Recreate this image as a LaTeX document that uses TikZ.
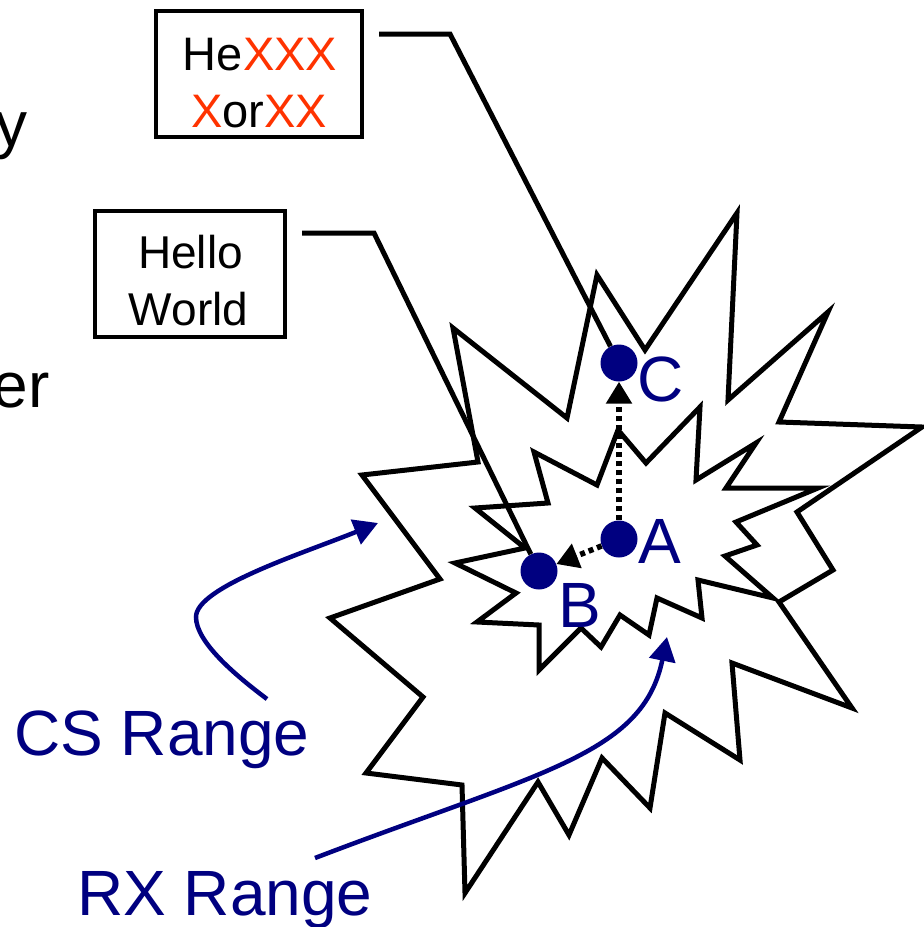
\documentclass[tikz,border=0pt]{standalone}
\usepackage{fontspec}
\setmainfont{Liberation Sans}
\usetikzlibrary{arrows.meta}
\definecolor{navyb}{RGB}{0,0,128}
\definecolor{xred}{RGB}{255,51,0}
\newcommand\fsBig{\fontsize{64}{77}\selectfont}
\newcommand\fsBoxA{\fontsize{47}{57}\selectfont}
\newcommand\fsBoxB{\fontsize{46}{57}\selectfont}
\begin{document}
\begin{tikzpicture}[x=1pt,y=-1pt,
  starline/.style={line width=5pt, line join=miter},
  boxframe/.style={draw, line width=4.5pt, minimum height=126pt, inner sep=0pt},
  leader/.style={line width=5pt},
  dotnode/.style={circle, fill=navyb, minimum size=37pt, inner sep=0pt},
  dotarrow/.style={line width=5.5pt, dash pattern=on 5pt off 4pt, -{Triangle[length=22pt,width=25pt]}},
  bluearrow/.style={navyb, line width=4.5pt, -{Triangle[length=24pt,width=26pt]}},
  bigtext/.style={font=\fsBig, inner sep=0pt},
  boxtext/.style={inner sep=0pt, anchor=base},
  ]
\useasboundingbox[fill=white] (0,0) rectangle (924,927);

% outer star (RX range)
\draw[starline] (737,213) -- (728,400) -- (828,312) -- (779,422) -- (922,427) -- (797,512)
  -- (833,570) -- (779,602) -- (852,708) -- (732,663) -- (740,760) -- (665,713)
  -- (650,808) -- (602,758) -- (569,835) -- (538,782) -- (465,893) -- (462,785)
  -- (366,773) -- (423,697) -- (330,618) -- (440,579) -- (362,475) -- (478,462)
  -- (453,328) -- (567,418) -- (597,275) -- (645,350) -- cycle;

% inner star (CS range)
\draw[starline] (618,430) -- (646,463) -- (700,407) -- (696,480) -- (756,443) -- (726,488)
  -- (818,488) -- (736,522) -- (757,545) -- (725,556) -- (773,598) -- (698,580)
  -- (702,618) -- (657,598) -- (649,635) -- (620,615) -- (601,647) -- (581,628)
  -- (539,670) -- (539,625) -- (477,622) -- (516,593) -- (455,563) -- (525,548)
  -- (475,508) -- (548,503) -- (534,452) -- (597,485) -- cycle;

% boxes
\node[boxframe, minimum width=206pt] (bx1) at (259,74) {};
\node[boxframe, minimum width=190pt] (bx2) at (190,274) {};
\node[boxtext, font=\fsBoxA] (t1a) at (260,70) {He\textcolor{xred}{XXX}};
\node[boxtext, font=\fsBoxA] (t1b) at (259,127) {\textcolor{xred}{X}or\textcolor{xred}{XX}};
\node[boxtext, font=\fsBoxB] (t2a) at (190.5,268) {Hello};
\node[boxtext, font=\fsBoxB] (t2b) at (188.5,325) {World};

% dots
\node[dotnode] (A) at (619,539) {};
\node[dotnode] (B) at (539,571) {};
\node[dotnode] (C) at (619,363) {};
\node[bigtext, text=navyb, anchor=base west] (la) at (638,563) {A};
\node[bigtext, text=navyb, anchor=base west] (lb) at (558,627) {B};
\node[bigtext, text=navyb, anchor=base west] (lc) at (637,401) {C};

% leader lines
\coordinate (k1) at (379,34);
\coordinate (k1b) at (450,34);
\draw[leader] (k1) -- (k1b) -- (C);
\coordinate (k2) at (302,233);
\coordinate (k2b) at (374,233);
\draw[leader] (k2) -- (k2b) -- (B);

% dotted arrows
\draw[dotarrow] (A) -- (C);
\draw[dotarrow] (A) -- (B);

% range labels and arrows
\node[bigtext, text=navyb, anchor=base west] (cs) at (14,755) {CS Range};
\node[bigtext, text=navyb, anchor=base west] (rx) at (77,915) {RX Range};
\coordinate (cs0) at (267,699);
\coordinate (cs1) at (378,523);
\draw[bluearrow] (cs0) .. controls (235,675) and (196,642) .. (196,617)
  .. controls (196,587) and (304,553) .. (cs1);
\coordinate (rx0) at (315,858);
\coordinate (rx1) at (667,637);
\draw[bluearrow] (rx0) .. controls (540,772) and (643,755) .. (rx1);

% cut-off texts at left edge (cut off in the reference too)
\node[bigtext, anchor=base east] (ty) at (28,146) {y};
\node[bigtext, anchor=base east] (te) at (50,407) {er};
\end{tikzpicture}
\end{document}
